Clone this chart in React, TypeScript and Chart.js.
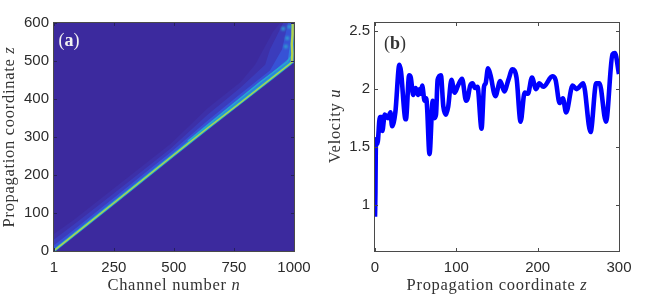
import React, { useEffect, useRef } from "react";
import { Chart, registerables } from "chart.js";

Chart.register(...registerables);

// Panel (a): heat-map features, as [channel, coordinate]
const nTicks = [1, 250, 500, 750, 1000];
const zTicksA = [0, 100, 200, 300, 400, 500, 600];
const lowerEdge = [[1000, 495], [986, 492], [778, 388], [500, 252], [251, 125], [1, 0]];
const glowOuter = [[1, 0], [1, 45], [84, 82], [251, 165], [487, 282], [639, 375], [778, 445], [838, 490], [912, 576], [942, 600], [1000, 600]];
const glowMid = [[1, 0], [1, 30], [84, 70], [251, 152], [487, 270], [639, 358], [778, 430], [880, 490], [900, 530], [955, 600], [1000, 600]];
const glowInner = [[1, 0], [1, 15], [84, 56], [251, 140], [487, 260], [639, 342], [778, 414], [900, 475], [950, 530], [975, 600], [1000, 600]];
const glowCore = [[1, 0], [84, 48], [251, 131], [487, 252], [639, 331], [778, 402], [900, 465], [975, 505], [985, 550], [990, 600], [1000, 600]];
const upperRidge = [[560, 290], [680, 352], [861, 445], [972, 498], [988, 512]];
const mainRidge = [[1, 1], [251, 127], [500, 253], [639, 323], [778, 391], [917, 460], [986, 494]];
const edgeStripe = [[991, 497], [993, 520], [991, 545], [994, 570], [994, 600]];
const fanSpots = [[955, 585], [972, 560], [966, 538], [980, 590]];

// Panel (b): velocity along the propagation coordinate
const zTicksB = [0, 100, 200, 300];
const uTicks = [1, 1.5, 2, 2.5];
const zValues = [0, 0.5, 1, 2, 3, 6, 8, 9, 12, 16, 19, 21, 25, 30, 32, 37, 38, 42, 44, 47, 50, 53, 55, 56, 58, 61, 63, 64, 67, 71, 73, 75, 77, 81, 84, 87, 90, 94, 98, 102, 107, 112, 114, 117, 120, 123, 126, 131, 134, 136, 139, 142, 148, 154, 159, 164, 169, 174, 179, 184, 188, 193, 198, 202, 207, 218, 222, 227, 231, 235, 243, 248, 256, 265, 272, 276, 284, 292, 295, 300];
const uValues = [0.9, 1.1, 1.5, 1.57, 1.53, 1.76, 1.76, 1.64, 1.78, 1.75, 1.8, 1.68, 1.8, 2.21, 2.15, 1.75, 1.74, 2.12, 2.1, 1.95, 2.01, 1.95, 2.0, 1.96, 2.03, 1.9, 1.92, 1.85, 1.44, 1.9, 1.75, 1.78, 2.08, 2.12, 1.85, 1.78, 1.85, 2.08, 1.97, 2.03, 2.09, 1.9, 1.92, 2.03, 2.05, 2.01, 2.02, 1.66, 2.02, 2.05, 2.18, 2.12, 1.94, 2.07, 1.98, 2.08, 2.17, 2.1, 1.72, 1.97, 1.96, 2.1, 2.0, 2.05, 2.02, 2.11, 2.08, 1.88, 1.92, 1.8, 2.03, 2.0, 2.05, 1.63, 2.05, 2.05, 1.72, 2.3, 2.31, 2.13];

const SANS = '"Liberation Sans", Arial, sans-serif';
const SERIF = '"Liberation Serif", serif';
const INK = "#2b2b2b";
const toPts = (a: number[][]) => a.map(([x, y]) => ({ x, y }));

type Run = [string, string];

function drawRuns(ctx: any, runs: Run[], cx: number, cy: number, rotate: boolean, spacing: string, color: string) {
  ctx.save();
  ctx.translate(cx, cy);
  if (rotate) ctx.rotate(-Math.PI / 2);
  ctx.fillStyle = color;
  ctx.textBaseline = "alphabetic";
  ctx.textAlign = "left";
  ctx.letterSpacing = spacing;
  let total = 0;
  for (const [font, t] of runs) {
    ctx.font = font;
    total += ctx.measureText(t).width;
  }
  let x = -total / 2;
  for (const [font, t] of runs) {
    ctx.font = font;
    ctx.fillText(t, x, 0);
    x += ctx.measureText(t).width;
  }
  ctx.restore();
}

function framePlugin(opts: {
  bg?: string;
  tickColor: string;
  xTitle: Run[];
  xPos: [number, number];
  yTitle: Run[];
  yPos: [number, number];
  label: Run[];
  labelPos: [number, number];
  labelColor: string;
}) {
  return {
    id: "frame",
    beforeDatasetsDraw(chart: any) {
      if (!opts.bg) return;
      const { ctx, chartArea: a } = chart;
      ctx.fillStyle = opts.bg;
      ctx.fillRect(a.left, a.top, a.right - a.left, a.bottom - a.top);
    },
    beforeDatasetDraw(chart: any, args: any) {
      const blur = chart.data.datasets[args.index].softness;
      chart.ctx.filter = blur ? `blur(${blur}px)` : "none";
    },
    afterDatasetDraw(chart: any) {
      chart.ctx.filter = "none";
    },
    afterDatasetsDraw(chart: any) {
      const { ctx, chartArea: a, scales } = chart;
      ctx.save();
      ctx.strokeStyle = opts.tickColor;
      ctx.lineWidth = 1;
      ctx.beginPath();
      for (const t of scales.x.ticks) {
        const p = Math.round(scales.x.getPixelForValue(t.value)) + 0.5;
        ctx.moveTo(p, a.bottom); ctx.lineTo(p, a.bottom - 3);
        ctx.moveTo(p, a.top); ctx.lineTo(p, a.top + 3);
      }
      for (const t of scales.y.ticks) {
        const p = Math.round(scales.y.getPixelForValue(t.value)) + 0.5;
        ctx.moveTo(a.left, p); ctx.lineTo(a.left + 3, p);
        ctx.moveTo(a.right, p); ctx.lineTo(a.right - 3, p);
      }
      ctx.stroke();
      ctx.strokeStyle = "#4a4a4a";
      ctx.strokeRect(a.left - 0.5, a.top - 0.5, a.right - a.left + 1, a.bottom - a.top + 1);
      ctx.restore();
      drawRuns(ctx, opts.label, opts.labelPos[0], opts.labelPos[1], false, "0px", opts.labelColor);
      drawRuns(ctx, opts.xTitle, opts.xPos[0], opts.xPos[1], false, "0.7px", "#333333");
      drawRuns(ctx, opts.yTitle, opts.yPos[0], opts.yPos[1], true, "0.7px", "#333333");
    },
  };
}

function baseOptions(xMin: number, xMax: number, yMin: number, yMax: number, xTicks: number[], yTicks: number[], left: number, plotW: number, canvasW: number) {
  const tickFont = { family: SANS, size: 15 };
  return {
    animation: false,
    responsive: false,
    maintainAspectRatio: false,
    layout: { padding: { top: 23, right: canvasW - left - plotW, left: 0, bottom: 0 } },
    plugins: { legend: { display: false }, tooltip: { enabled: false } },
    scales: {
      x: {
        type: "linear", min: xMin, max: xMax,
        grid: { display: false, drawTicks: false }, border: { display: false },
        afterBuildTicks: (s: any) => { s.ticks = xTicks.map((value) => ({ value })); },
        afterFit: (s: any) => { s.height = 45; },
        ticks: { color: INK, font: tickFont, padding: 8, maxRotation: 0, autoSkip: false, callback: (v: any) => String(v) },
      },
      y: {
        type: "linear", min: yMin, max: yMax,
        grid: { display: false, drawTicks: false }, border: { display: false },
        afterBuildTicks: (s: any) => { s.ticks = yTicks.map((value) => ({ value })); },
        afterFit: (s: any) => { s.width = left; },
        ticks: { color: INK, font: tickFont, padding: 5, autoSkip: false, callback: (v: any) => String(v) },
      },
    },
  };
}

function shape(a: number[][], color: string, order: number, softness: number) {
  return { data: toPts([...a, ...lowerEdge]), showLine: true, fill: "shape", backgroundColor: color, borderColor: color, borderWidth: 0, pointRadius: 0, tension: 0, order, softness };
}
function ridge(a: number[][], color: string, width: number, order: number) {
  return { data: toPts(a), showLine: true, fill: false, borderColor: color, borderWidth: width, pointRadius: 0, tension: 0, borderCapStyle: "round", order, softness: 0.4 };
}

export default function App() {
  const aRef = useRef<HTMLCanvasElement>(null);
  const bRef = useRef<HTMLCanvasElement>(null);

  useEffect(() => {
    const a = new Chart(aRef.current as any, {
      type: "scatter",
      data: {
        datasets: [
          shape(glowOuter, "#3d30a8", 10, 2),
          shape(glowMid, "#3b3cbc", 9, 1.6),
          shape(glowInner, "#3752d6", 8, 1.2),
          shape(glowCore, "#2f7ce0", 7, 1),
          ridge(upperRidge, "#27a6d0", 1.5, 6),
          ridge(mainRidge, "#22b0c8", 3, 5),
          ridge(mainRidge, "#b4d44a", 1.3, 4),
          ridge(edgeStripe, "#b4d44a", 2.4, 3),
          { data: toPts(fanSpots), showLine: false, pointRadius: 2.5, pointStyle: "rect", backgroundColor: "#2f9fd0", borderWidth: 0, order: 2, softness: 1.2 },
        ],
      } as any,
      options: baseOptions(1, 1000, 0, 600, nTicks, zTicksA, 54, 240, 325) as any,
      plugins: [framePlugin({
        bg: "#3c2a9e",
        tickColor: "#26215e",
        xTitle: [[`16.5px ${SERIF}`, "Channel number "], [`italic 16.5px ${SERIF}`, "n"]],
        xPos: [174, 290],
        yTitle: [[`16.5px ${SERIF}`, "Propagation coordinate "], [`italic 16.5px ${SERIF}`, "z"]],
        yPos: [14, 137],
        label: [[`18px ${SERIF}`, "("], [`bold 18px ${SERIF}`, "a"], [`18px ${SERIF}`, ")"]],
        labelPos: [69, 46],
        labelColor: "#f2f2f2",
      })] as any,
    });
    const b = new Chart(bRef.current as any, {
      type: "scatter",
      data: {
        datasets: [{
          data: zValues.map((x, i) => ({ x, y: uValues[i] })),
          showLine: true, fill: false, borderColor: "#0000ff", borderWidth: 4.6,
          pointRadius: 0, cubicInterpolationMode: "monotone", borderJoinStyle: "round",
        }],
      } as any,
      options: baseOptions(0, 300, 0.605, 2.57, zTicksB, uTicks, 50, 244, 326) as any,
      plugins: [framePlugin({
        tickColor: "#4a4a4a",
        xTitle: [[`16.5px ${SERIF}`, "Propagation coordinate "], [`italic 16.5px ${SERIF}`, "z"]],
        xPos: [172, 290],
        yTitle: [[`16.5px ${SERIF}`, "Velocity "], [`italic 16.5px ${SERIF}`, "u"]],
        yPos: [15, 126],
        label: [[`18px ${SERIF}`, "("], [`bold 18px ${SERIF}`, "b"], [`18px ${SERIF}`, ")"]],
        labelPos: [70, 49],
        labelColor: "#333333",
      })] as any,
    });
    return () => { a.destroy(); b.destroy(); };
  }, []);

  return (
    <div style={{ position: "fixed", left: 0, top: 0, width: 651, height: 296, background: "#fff", overflow: "hidden" }}>
      <canvas ref={aRef} width={325} height={296} style={{ position: "absolute", left: 0, top: 0, width: 325, height: 296, filter: "blur(0.35px)" }} />
      <canvas ref={bRef} width={326} height={296} style={{ position: "absolute", left: 325, top: 0, width: 326, height: 296, filter: "blur(0.35px)" }} />
    </div>
  );
}
